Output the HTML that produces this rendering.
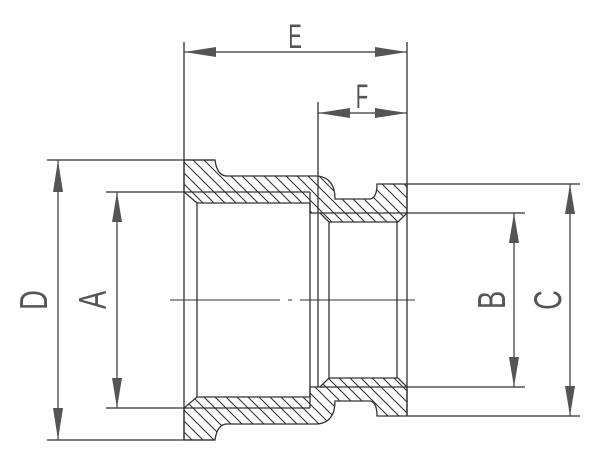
<!DOCTYPE html>
<html><head><meta charset="utf-8"><style>
html,body{margin:0;padding:0;background:#fff;width:600px;height:453px;overflow:hidden}
svg{display:block}
text{font-family:"Liberation Sans",sans-serif;fill:#555;font-size:34px}
</style></head><body>
<svg width="600" height="453" viewBox="0 0 600 453" xmlns="http://www.w3.org/2000/svg">
<defs>
<pattern id="hA" patternUnits="userSpaceOnUse" width="11" height="11">
<path d="M-1,-1 L12,12 M-12,-1 L1,12 M10,-1 L23,12" stroke="#333" stroke-width="1.1"/>
</pattern>
<pattern id="hB" patternUnits="userSpaceOnUse" width="11" height="11">
<path d="M-1,12 L12,-1 M-12,12 L1,-1 M10,12 L23,-1" stroke="#333" stroke-width="1.1"/>
</pattern>
</defs>
<g fill="none" stroke="#333" stroke-width="1.3">
<path fill="url(#hA)" d="M184,160 L215,160 Q217,175 226,176 L318,176 Q335,178 335,199 L370,199 Q377,198 377,184 L407,184 L407,213 L398,222 L329,222 L320,213 L310,213 L310,203 L197,203 L184,192 Z"/>
<g transform="translate(0,600) scale(1,-1)">
<path fill="url(#hB)" d="M184,160 L215,160 Q217,175 226,176 L318,176 Q335,178 335,199 L370,199 Q377,198 377,184 L407,184 L407,213 L398,222 L329,222 L320,213 L310,213 L310,203 L197,203 L184,192 Z"/>
</g>
<path d="M184,42 V440 M197,203 V397 M310,192 V408 M318,102 V387 M329,222 V378 M397,222 V378 M407,42 V416"/>
<path d="M47,160 H215 M47,440 H215 M106,192 H310 M106,408 H310 M407,184 H580 M407,416 H580 M320,213 H525 M320,387 H525"/>
<path d="M170,300 H280 M288,300 H292 M300,300 H415" stroke-width="1"/>
<path d="M184,52 H407 M318,113 H407 M58,160 V440 M117,192 V408 M514,213 V387 M570,184 V416" stroke-width="1.2"/>
</g>
<g fill="#555">
<path d="M184,52 L216,47 L216,57 Z"/><path d="M407,52 L375,47 L375,57 Z"/>
<path d="M318,113 L350,108 L350,118 Z"/><path d="M407,113 L375,108 L375,118 Z"/>
<path d="M58,160 L53,192 L63,192 Z"/><path d="M58,440 L53,408 L63,408 Z"/>
<path d="M117,192 L112,222 L122,222 Z"/><path d="M117,408 L112,378 L122,378 Z"/>
<path d="M514,213 L509,243 L519,243 Z"/><path d="M514,387 L509,357 L519,357 Z"/>
<path d="M570,184 L565,214 L575,214 Z"/><path d="M570,416 L565,386 L575,386 Z"/>
</g>
<g transform="translate(295,48) scale(0.6,1)"><text x="0" y="0" text-anchor="middle">E</text></g>
<g transform="translate(362,108) scale(0.6,1)"><text x="0" y="0" text-anchor="middle">F</text></g>
<g transform="translate(47,300) rotate(-90) scale(0.8,1.15)"><text x="0" y="0" text-anchor="middle">D</text></g>
<g transform="translate(106,300) rotate(-90) scale(0.8,1.15)"><text x="0" y="0" text-anchor="middle">A</text></g>
<g transform="translate(505,300) rotate(-90) scale(0.8,1.15)"><text x="0" y="0" text-anchor="middle">B</text></g>
<g transform="translate(561,300) rotate(-90) scale(0.8,1.15)"><text x="0" y="0" text-anchor="middle">C</text></g>
</svg>
</body></html>
